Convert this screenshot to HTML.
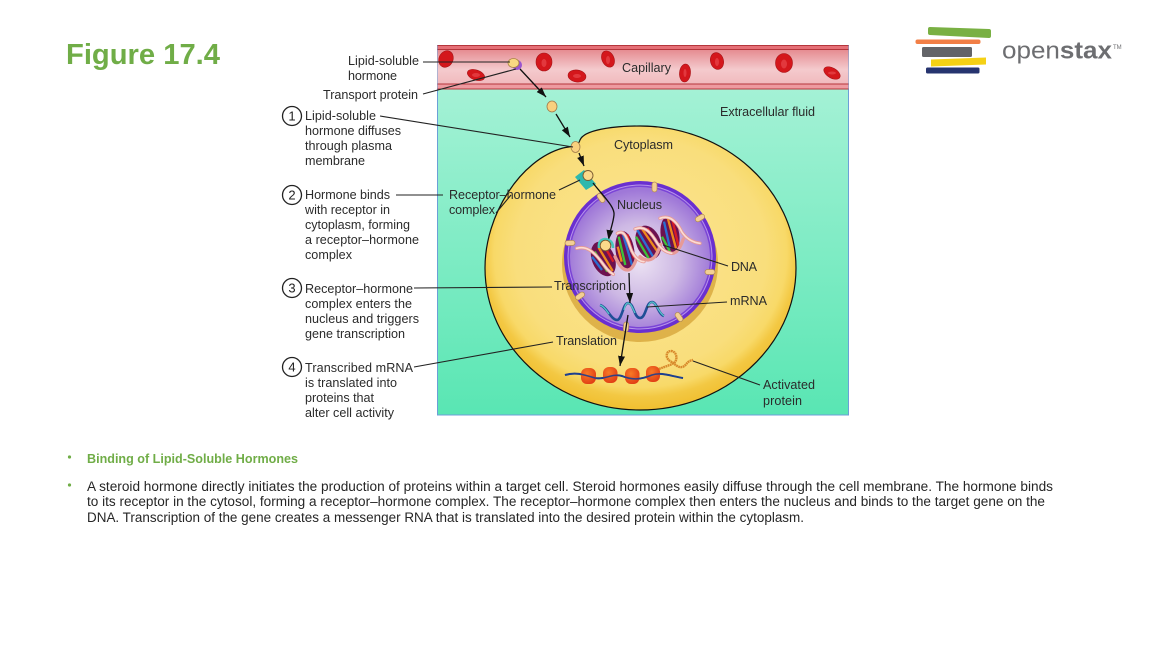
<!DOCTYPE html>
<html><head><meta charset="utf-8"><style>
html,body{margin:0;padding:0;background:#fff}
svg{display:block}
.a{font:12.6px "Liberation Sans",sans-serif;fill:#2b2b2b}
.b{font:13.5px "Liberation Sans",sans-serif;fill:#262626}
</style></head><body>
<svg width="1153" height="648" viewBox="0 0 1153 648" xmlns="http://www.w3.org/2000/svg">
<defs>
<linearGradient id="ecf" x1="0" y1="0" x2="0" y2="1"><stop offset="0" stop-color="#aef3da"/><stop offset="1" stop-color="#59e6b3"/></linearGradient>
<linearGradient id="cap" x1="0" y1="0" x2="0" y2="1"><stop offset="0" stop-color="#e27e84"/><stop offset=".55" stop-color="#f4cacd"/><stop offset="1" stop-color="#f0b4b8"/></linearGradient>
<radialGradient id="cell" cx=".5" cy=".45" r=".56"><stop offset="0" stop-color="#fbe592"/><stop offset=".72" stop-color="#f9de7c"/><stop offset=".84" stop-color="#f8d968"/><stop offset=".9" stop-color="#f3c843"/><stop offset="1" stop-color="#f0bd2c"/></radialGradient>
<radialGradient id="nuc" gradientUnits="userSpaceOnUse" cx="640" cy="262" r="72"><stop offset="0" stop-color="#ece2f3"/><stop offset=".55" stop-color="#cdb8e4"/><stop offset="1" stop-color="#9f78d8"/></radialGradient>
<radialGradient id="rib" cx=".4" cy=".35" r=".7"><stop offset="0" stop-color="#f87a26"/><stop offset="1" stop-color="#e03c14"/></radialGradient>
<marker id="ar" markerWidth="11" markerHeight="8" refX="10" refY="3.500" orient="auto" markerUnits="userSpaceOnUse"><path d="M0 0L10 3.500L0 7Z" fill="#111"/></marker>
</defs>
<rect width="1153" height="648" fill="#fff"/>
<text x="66" y="64" textLength="154" lengthAdjust="spacingAndGlyphs" style="font:bold 29px 'Liberation Sans',sans-serif;fill:#70ad47">Figure 17.4</text>

<!-- logo -->
<path d="M930 27L989 29Q991 29 991 31V36Q991 38 989 38L930 35Q928 35 928 33V29Q928 27 930 27Z" fill="#79b043"/>
<rect x="915.500" y="39.500" width="65" height="4.500" rx="2" fill="#f27f46"/>
<rect x="922" y="47" width="50" height="10" rx="1.500" fill="#636468"/>
<path d="M931 59.500L986 57.500V64.500L931 66.500Z" fill="#f5d115"/>
<rect x="926" y="67.500" width="53.500" height="6" rx="1.500" fill="#26346f"/>
<text x="1002" y="58.500" textLength="110" lengthAdjust="spacingAndGlyphs" style="font:24px 'Liberation Sans',sans-serif;fill:#6d6e71">open<tspan font-weight="bold">stax</tspan></text>
<text x="1113" y="49" style="font:6px 'Liberation Sans',sans-serif;fill:#6d6e71">TM</text>

<!-- background -->
<rect x="437.500" y="45.500" width="411" height="369.500" fill="url(#ecf)" stroke="#6c9fd8" stroke-width="1"/>
<rect x="437.500" y="45.500" width="411" height="43.500" fill="url(#cap)"/>
<rect x="437.500" y="45.500" width="411" height="4" fill="#e56f76"/>
<rect x="437.500" y="84" width="411" height="5" fill="#ee9aa0"/>
<path d="M437.500 45.500H848.500M437.500 49.500H848.500M437.500 84H848.500M437.500 89H848.500" stroke="#b5363c" stroke-width="1" fill="none"/>
<g fill="#d4171c" stroke="#a81216" stroke-width=".6">
<ellipse cx="446" cy="59" rx="7" ry="8.500" transform="rotate(25 446 59)"/>
<ellipse cx="476" cy="75" rx="9" ry="5" transform="rotate(20 476 75)"/>
<ellipse cx="544" cy="62" rx="8" ry="9"/>
<ellipse cx="577" cy="76" rx="9" ry="6" transform="rotate(8 577 76)"/>
<ellipse cx="608" cy="59" rx="6" ry="8.500" transform="rotate(-25 608 59)"/>
<ellipse cx="685" cy="73" rx="5.500" ry="9" transform="rotate(5 685 73)"/>
<ellipse cx="717" cy="61" rx="6.500" ry="8.500" transform="rotate(-15 717 61)"/>
<ellipse cx="784" cy="63" rx="8.500" ry="9.500"/>
<ellipse cx="832" cy="73" rx="9" ry="5" transform="rotate(30 832 73)"/>
</g>
<g fill="#e8474c" opacity=".7">
<ellipse cx="544" cy="63" rx="2.500" ry="4"/><ellipse cx="784" cy="64" rx="3" ry="4.500"/><ellipse cx="717" cy="62" rx="2" ry="4"/><ellipse cx="685" cy="73" rx="1.500" ry="4"/><ellipse cx="608" cy="60" rx="2" ry="4"/><ellipse cx="577" cy="76" rx="4" ry="2"/><ellipse cx="476" cy="75" rx="4" ry="2"/><ellipse cx="832" cy="73" rx="4" ry="1.500"/>
</g>

<!-- cell -->
<path d="M580 140C584 130 612 126 640 126C725 126 796 190 796 268C796 346 725 410 640 410C555 410 485 346 485 268C485 215 520 160 563 148C572 146 578 147 580 140Z" fill="url(#cell)" stroke="#111" stroke-width="1.200"/>

<!-- nucleus -->
<circle cx="640" cy="264" r="78" fill="#d9a940" opacity=".85"/>
<circle cx="640" cy="257" r="76" fill="#6a2fd0"/>
<circle cx="640" cy="257" r="72.500" fill="#b794ea"/>
<circle cx="640" cy="257" r="71.500" fill="#7a44d6"/>
<circle cx="640" cy="257" r="70" fill="url(#nuc)"/>
<g fill="#f3cf94" stroke="#b28a50" stroke-width=".7">
<rect x="-2.500" y="-5" width="5" height="10" rx="2.500" transform="translate(654.500 187)"/>
<rect x="-2.500" y="-5" width="5" height="10" rx="2.500" transform="translate(700 218) rotate(60)"/>
<rect x="-2.500" y="-5" width="5" height="10" rx="2.500" transform="translate(710 272) rotate(90)"/>
<rect x="-2.500" y="-5" width="5" height="10" rx="2.500" transform="translate(679 317) rotate(-35)"/>
<rect x="-2.500" y="-5" width="5" height="10" rx="2.500" transform="translate(626 327) rotate(5)"/>
<rect x="-2.500" y="-5" width="5" height="10" rx="2.500" transform="translate(580 296) rotate(55)"/>
<rect x="-2.500" y="-5" width="5" height="10" rx="2.500" transform="translate(570 243) rotate(88)"/>
<rect x="-2.500" y="-5" width="5" height="10" rx="2.500" transform="translate(601 198) rotate(-35)"/>
</g>

<!-- DNA (drawn in zoom coordinates) -->
<g transform="translate(570 205) scale(.33333)">
<g fill="#6d1150">
<ellipse cx="100" cy="162" rx="34" ry="54" transform="rotate(-22 100 162)"/>
<ellipse cx="165" cy="138" rx="28" ry="60" transform="rotate(-8 165 138)"/>
<ellipse cx="235" cy="112" rx="36" ry="52" transform="rotate(-22 235 112)"/>
<ellipse cx="300" cy="90" rx="28" ry="56" transform="rotate(-8 300 90)"/>
</g>
<g fill="none" stroke-width="7">
<path d="M74 140L112 200" stroke="#3cc23a"/><path d="M86 128L128 198" stroke="#ef8a1c"/><path d="M66 155L96 195" stroke="#2a6fd2"/><path d="M104 125L130 170" stroke="#d81d24"/>
<path d="M146 95L166 180" stroke="#3cc23a"/><path d="M158 85L186 180" stroke="#2a6fd2"/><path d="M172 88L192 160" stroke="#d81d24"/><path d="M143 125L155 170" stroke="#ef8a1c"/>
<path d="M202 75L252 160" stroke="#2a6fd2"/><path d="M215 70L266 145" stroke="#ef8a1c"/><path d="M198 95L236 160" stroke="#3cc23a"/><path d="M232 70L270 125" stroke="#d81d24"/>
<path d="M282 50L300 130" stroke="#2a6fd2"/><path d="M294 42L318 130" stroke="#ef8a1c"/><path d="M308 48L326 125" stroke="#d81d24"/><path d="M276 95L300 140" stroke="#3cc23a"/>
</g>
<g fill="none" stroke="#e79a96" stroke-width="10" stroke-linecap="round">
<path d="M20 130C50 122 70 140 90 165C105 185 115 200 130 208"/>
<path d="M135 155C145 175 155 195 172 195C185 195 192 180 198 165"/>
<path d="M142 85C160 75 168 90 180 125C188 150 205 170 222 170"/>
<path d="M210 155C225 168 245 170 258 150C264 140 268 128 272 118"/>
<path d="M195 72C225 60 245 85 262 115C272 130 285 142 305 145C320 147 332 125 340 102"/>
<path d="M270 40C300 28 320 50 335 80C348 100 368 112 390 115"/>
</g>
<g fill="none" stroke="#fbdcd4" stroke-width="5" stroke-linecap="round">
<path d="M20 130C50 122 70 140 90 165C105 185 115 200 130 208"/>
<path d="M142 85C160 75 168 90 180 125C188 150 205 170 222 170"/>
<path d="M195 72C225 60 245 85 262 115C272 130 285 142 305 145"/>
<path d="M270 40C300 28 320 50 335 80C348 100 368 112 390 115"/>
</g>
</g>

<!-- mRNA -->
<path d="M600 305C607 307 611 320 617 320C622 320 623 303 628 303C634 303 634 318 640 318C646 318 646 302 652 302C657 302 658 314 664 316" stroke="#1f4f96" stroke-width="2.600" fill="none"/>
<path d="M600 305C604 306 607 311 609 314M624 310C625 306 626 303 628 303C631 303 633 309 635 313M648 307C649 304 650 302 652 302C656 302 658 312 664 316" stroke="#58c3c8" stroke-width="1.300" fill="none"/>

<!-- protein synthesis -->
<path d="M565 375C575 372 582 374 595 378C605 380 612 373 622 376C632 380 640 380 652 375C662 372 670 376 683 378" stroke="#1e3f8f" stroke-width="2" fill="none"/>
<g fill="url(#rib)">
<rect x="581" y="368" width="15" height="16" rx="6"/><rect x="603" y="367" width="14.500" height="16" rx="6"/><rect x="625" y="368" width="14.500" height="16" rx="6"/><rect x="646" y="366" width="14" height="16" rx="6"/>
</g>
<path d="M565 375C575 372 582 374 595 378C605 380 612 373 622 376C632 380 640 380 652 375C662 372 670 376 683 378" stroke="#1e3f8f" stroke-width="1.500" fill="none" opacity=".9"/>
<path d="M659 369C666 366 672 365 675 362C678 358 676 351 671 351C666 351 665 358 670 361C675 364 678 368 682 367C687 366 686 361 693 360" stroke="#d88a2c" stroke-width="2.400" fill="none" stroke-dasharray="1.800 .5"/>

<!-- hormones -->
<ellipse cx="517" cy="65" rx="5" ry="5" fill="#9a55cf"/>
<ellipse cx="513.500" cy="63" rx="5.500" ry="4.500" fill="#f9d882" stroke="#a88440" stroke-width=".8"/>
<ellipse cx="552" cy="106.500" rx="5" ry="5.500" fill="#f9d07e" stroke="#a07a4a" stroke-width=".8"/>
<ellipse cx="575.500" cy="147" rx="4.500" ry="5.500" fill="#f9d07e" stroke="#a07a4a" stroke-width=".8"/>
<path d="M575 177L584 170L596 184L586 190Z" fill="#2fb8ad"/>
<circle cx="588" cy="175.500" r="5" fill="#fad98a" stroke="#7a5a30" stroke-width=".9"/>

<!-- arrows -->
<g fill="none" stroke="#111" stroke-width="1.300">
<path d="M520 69L546 97" marker-end="url(#ar)"/>
<path d="M556 114L570 137" marker-end="url(#ar)"/>
<path d="M579 153L584 166" marker-end="url(#ar)"/>
<path d="M593 183C604 197 615 207 614 215C613 224 610 230 608.500 240" marker-end="url(#ar)"/>
<path d="M629 273L630 303" marker-end="url(#ar)"/>
<path d="M628 315L620 366" marker-end="url(#ar)"/>
</g>
<!-- hormone at DNA -->
<path d="M599 248Q598 240 605 239Q613 240 613 248" stroke="#43c6bb" stroke-width="2.600" fill="none"/>
<circle cx="605.500" cy="245.500" r="5.300" fill="#fad98a" stroke="#7a5a30" stroke-width=".9"/>

<!-- leader lines -->
<g fill="none" stroke="#222" stroke-width="1.100">
<path d="M423 62H510"/>
<path d="M423 94L516 69"/>
<path d="M380 116L573 147"/>
<path d="M396 195H443"/>
<path d="M559 190L580 180"/>
<path d="M496 213L511 195"/>
<path d="M414 288L552 287"/>
<path d="M414 367L553 342"/>
<path d="M647 307L727 302"/>
<path d="M663 245L728 266"/>
<path d="M693 361L760 385"/>
</g>
<g fill="#fff" stroke="#222" stroke-width="1.300">
<circle cx="292" cy="116" r="9.500"/><circle cx="292" cy="195" r="9.500"/><circle cx="292" cy="288" r="9.500"/><circle cx="292" cy="367" r="9.500"/>
</g>
<g style="font:13px 'Liberation Sans',sans-serif" fill="#222" text-anchor="middle">
<text x="292" y="120.500">1</text><text x="292" y="199.500">2</text><text x="292" y="292.500">3</text><text x="292" y="371.500">4</text>
</g>

<!-- labels -->
<g class="a">
<text class="a" x="348" y="65" textLength="71">Lipid-soluble</text>
<text class="a" x="348" y="80" textLength="49">hormone</text>
<text class="a" x="323" y="99" textLength="95">Transport protein</text>
<text class="a" x="305" y="120" textLength="71">Lipid-soluble</text>
<text class="a" x="305" y="135" textLength="96">hormone diffuses</text>
<text class="a" x="305" y="150" textLength="87">through plasma</text>
<text class="a" x="305" y="165" textLength="60">membrane</text>
<text class="a" x="305" y="199" textLength="85">Hormone binds</text>
<text class="a" x="305" y="214" textLength="85">with receptor in</text>
<text class="a" x="305" y="229" textLength="105">cytoplasm, forming</text>
<text class="a" x="305" y="244" textLength="114">a receptor–hormone</text>
<text class="a" x="305" y="259" textLength="47">complex</text>
<text class="a" x="305" y="293" textLength="108">Receptor–hormone</text>
<text class="a" x="305" y="308" textLength="107">complex enters the</text>
<text class="a" x="305" y="323" textLength="114">nucleus and triggers</text>
<text class="a" x="305" y="338" textLength="100">gene transcription</text>
<text class="a" x="305" y="372" textLength="108">Transcribed mRNA</text>
<text class="a" x="305" y="387" textLength="92">is translated into</text>
<text class="a" x="305" y="402" textLength="69">proteins that</text>
<text class="a" x="305" y="417" textLength="89">alter cell activity</text>
<text class="a" x="449" y="199" textLength="107">Receptor–hormone</text>
<text class="a" x="449" y="214" textLength="46">complex</text>
<text class="a" x="622" y="72" textLength="49">Capillary</text>
<text class="a" x="720" y="116" textLength="95">Extracellular fluid</text>
<text class="a" x="614" y="149" textLength="59">Cytoplasm</text>
<text class="a" x="617" y="209" textLength="45">Nucleus</text>
<text class="a" x="731" y="271" textLength="26">DNA</text>
<text class="a" x="554" y="290" textLength="72">Transcription</text>
<text class="a" x="730" y="305" textLength="37">mRNA</text>
<text class="a" x="556" y="345" textLength="61">Translation</text>
<text class="a" x="763" y="389" textLength="52">Activated</text>
<text class="a" x="763" y="405" textLength="39">protein</text>
</g>

<!-- bullets -->
<circle cx="69.500" cy="457" r="1.600" fill="#70ad47"/>
<circle cx="69.500" cy="485" r="1.600" fill="#70ad47"/>
<text x="87" y="463" textLength="211" lengthAdjust="spacingAndGlyphs" style="font:bold 13px 'Liberation Sans',sans-serif;fill:#70ad47">Binding of Lipid-Soluble Hormones</text>
<text class="b" x="87" y="491" textLength="966" lengthAdjust="spacingAndGlyphs">A steroid hormone directly initiates the production of proteins within a target cell. Steroid hormones easily diffuse through the cell membrane. The hormone binds</text>
<text class="b" x="87" y="506" textLength="958" lengthAdjust="spacingAndGlyphs">to its receptor in the cytosol, forming a receptor–hormone complex. The receptor–hormone complex then enters the nucleus and binds to the target gene on the</text>
<text class="b" x="87" y="522" textLength="717" lengthAdjust="spacingAndGlyphs">DNA. Transcription of the gene creates a messenger RNA that is translated into the desired protein within the cytoplasm.</text>
</svg>
</body></html>
